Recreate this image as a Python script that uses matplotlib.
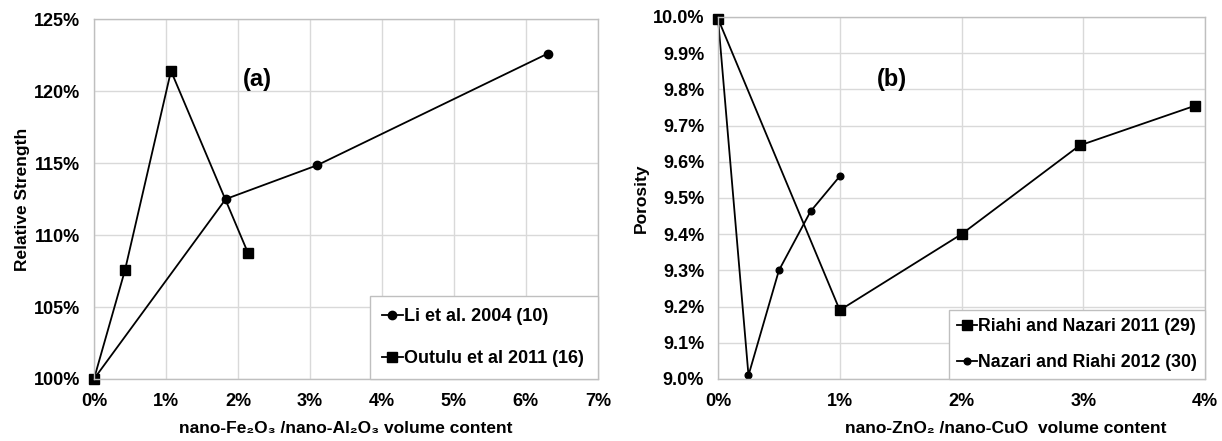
import matplotlib
matplotlib.use("Agg")
import matplotlib.pyplot as plt

plt.rcParams['font.family'] = ['Liberation Sans', 'DejaVu Sans']
plt.rcParams['font.weight'] = 'bold'

# (a) relative strength vs nano-Fe2O3 / nano-Al2O3 content (%)
li_x = [0.0, 1.83, 3.1, 6.3]
li_y = [100.0, 112.5, 114.85, 122.6]
outulu_x = [0.0, 0.43, 1.07, 2.14]
outulu_y = [100.0, 107.55, 121.4, 108.75]

# (b) porosity vs nano-ZnO2 / nano-CuO content (%)
riahi_x = [0.0, 1.0, 2.0, 2.97, 3.92]
riahi_y = [9.995, 9.19, 9.40, 9.645, 9.755]
nazari_x = [0.0, 0.25, 0.5, 0.76, 1.0]
nazari_y = [9.995, 9.01, 9.30, 9.463, 9.56]

left_xticks = [0, 1, 2, 3, 4, 5, 6, 7]
left_yticks = [100, 105, 110, 115, 120, 125]
right_xticks = [0, 1, 2, 3, 4]
right_yticks = [9.0, 9.1, 9.2, 9.3, 9.4, 9.5, 9.6, 9.7, 9.8, 9.9, 10.0]

fig = plt.figure(figsize=(12.22, 4.41), dpi=100)
ax1 = fig.add_axes([0.0769, 0.1406, 0.4124, 0.816])
ax2 = fig.add_axes([0.5876, 0.1406, 0.3985, 0.821])

grid_c = '#d9d9d9'
for ax in (ax1, ax2):
    ax.grid(True, color=grid_c, linewidth=1.0)
    ax.set_axisbelow(True)
    for s in ax.spines.values():
        s.set_color('#bfbfbf')
        s.set_linewidth(1.0)
    ax.tick_params(length=0, labelsize=13, pad=10)

ax1.plot(li_x, li_y, color='black', lw=1.3, marker='o', ms=6, clip_on=False,
         label='Li et al. 2004 (10)')
ax1.plot(outulu_x, outulu_y, color='black', lw=1.3, marker='s', ms=6.8, clip_on=False,
         label='Outulu et al 2011 (16)')
ax1.set_xlim(0, 7)
ax1.set_ylim(100, 125)
ax1.set_xticks(left_xticks)
ax1.set_xticklabels([f'{t}%' for t in left_xticks], fontweight='bold')
ax1.set_yticks(left_yticks)
ax1.set_yticklabels([f'{t}%' for t in left_yticks], fontweight='bold')
ax1.set_ylabel('Relative Strength', fontsize=12.5, fontweight='bold', labelpad=3)
ax1.set_xlabel('nano-Fe\u2082O\u2083 /nano-Al\u2082O\u2083 volume content', fontsize=12.5,
               fontweight='bold', labelpad=8)
ax1.text(2.27, 120.8, '(a)', fontsize=17, fontweight='bold', ha='center', va='center')
leg1 = ax1.legend(loc='lower left', bbox_to_anchor=(0.548, 0.0, 0.452, 0.3), mode='expand',
                  handlelength=1.15, handletextpad=0.05, borderpad=0.65, labelspacing=1.4,
                  fancybox=False, framealpha=1, borderaxespad=0,
                  prop={'weight': 'bold', 'size': 13})
leg1.get_frame().set_edgecolor('#bfbfbf')

ax2.plot(riahi_x, riahi_y, color='black', lw=1.3, marker='s', ms=6.8, clip_on=False,
         label='Riahi and Nazari 2011 (29)')
ax2.plot(nazari_x, nazari_y, color='black', lw=1.3, marker='o', ms=4.8, clip_on=False,
         label='Nazari and Riahi 2012 (30)')
ax2.set_xlim(0, 4)
ax2.set_ylim(9.0, 10.0)
ax2.set_xticks(right_xticks)
ax2.set_xticklabels([f'{t}%' for t in right_xticks], fontweight='bold')
ax2.set_yticks(right_yticks)
ax2.set_yticklabels([f'{t:.1f}%' for t in right_yticks], fontweight='bold')
ax2.set_ylabel('Porosity', fontsize=12.5, fontweight='bold', labelpad=3)
ax2.set_xlabel('nano-ZnO\u2082 /nano-CuO  volume content', fontsize=12.5,
               fontweight='bold', labelpad=8)
ax2.xaxis.set_label_coords(0.59, -0.115)
ax2.text(1.43, 9.827, '(b)', fontsize=17, fontweight='bold', ha='center', va='center')
leg2 = ax2.legend(loc='lower right', handlelength=1.15, handletextpad=0.05,
                  borderpad=0.45, labelspacing=1.05, fancybox=False, framealpha=1,
                  borderaxespad=0, prop={'weight': 'bold', 'size': 12.8})
leg2.get_frame().set_edgecolor('#bfbfbf')

fig.savefig('out.png', dpi=100)
